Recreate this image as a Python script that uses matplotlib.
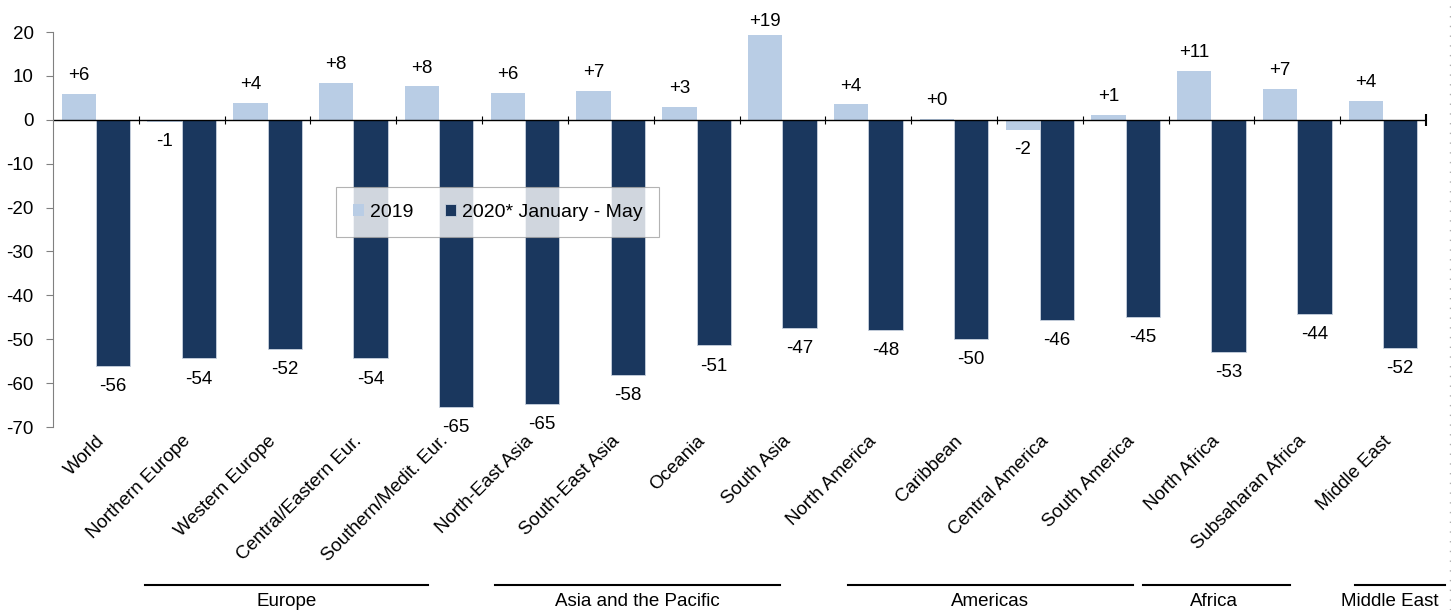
import numpy as np
import matplotlib.pyplot as plt
from matplotlib.lines import Line2D
import matplotlib.transforms as mtransforms

plt.rcParams['font.family'] = ['Liberation Sans', 'DejaVu Sans']
plt.rcParams['font.size'] = 13.5
plt.rcParams['axes.unicode_minus'] = False

# du lieu
regions = ["World", "Northern Europe", "Western Europe", "Central/Eastern Eur.",
           "Southern/Medit. Eur.", "North-East Asia", "South-East Asia", "Oceania",
           "South Asia", "North America", "Caribbean", "Central America",
           "South America", "North Africa", "Subsaharan Africa", "Middle East"]
v2019 = [5.9, -0.6, 3.9, 8.4, 7.7, 6.2, 6.6, 3.0, 19.4, 3.6, 0.2, -2.3, 1.1, 11.2, 7.1, 4.3]
v2020 = [-56.0, -54.3, -52.2, -54.3, -65.4, -64.7, -58.1, -51.4, -47.4, -47.8, -49.9,
         -45.6, -44.9, -52.8, -44.2, -51.9]
groups = ["Europe", "Asia and the Pacific", "Americas", "Africa", "Middle East"]
group_start = [0.57, 4.65, 8.77, 12.2, 14.67]
group_end = [3.87, 7.97, 12.08, 13.92, 15.72]
group_mid = [2.22, 6.31, 10.42, 13.03, 15.08]

c_light = '#b9cde5'
c_dark = '#1a375e'

fig = plt.figure(figsize=(14.51, 6.10), dpi=100)
ax = fig.add_axes([0.0365, 0.3, 0.9463, 0.6475])

x = np.arange(len(regions))
w = 0.4
ax.bar(x - w/2, v2019, w, color=c_light, label='2019')
ax.bar(x + w/2, v2020, w, color=c_dark, edgecolor='#c8d2de', linewidth=0.6,
       label='2020* January - May')

# nhan so lieu
for i in range(len(regions)):
    a = v2019[i]
    if a >= 0:
        ax.text(x[i] - w/2, min(a + 4.1, 22.3), f"{a:+.0f}", ha='center', va='center')
    else:
        ax.text(x[i] - w/2, a - 4.4, f"{a:+.0f}", ha='center', va='center')
    b = v2020[i]
    ax.text(x[i] + w/2, b - 4.8, f"{b:+.0f}", ha='center', va='center')

ax.set_xlim(-0.5, len(regions) - 0.5)
ax.set_ylim(-70, 20)
ax.set_yticks(np.arange(-70, 21, 10))
ax.spines['top'].set_visible(False)
ax.spines['right'].set_visible(False)
ax.spines['bottom'].set_visible(False)
ax.spines['left'].set_color('#808080')
ax.tick_params(axis='y', length=5, color='#808080', pad=9)

ax.set_xticks(x)
ax.set_xticklabels(regions, rotation=45, ha='right', rotation_mode='anchor')
ax.tick_params(axis='x', length=0, pad=4)

# truc 0 va vach chia
ax.axhline(0, color='black', linewidth=1.0)
bounds = np.arange(0.5, len(regions) - 0.5, 1.0)
ax.vlines(bounds, -0.9, 0.9, color='black', linewidth=0.8)
ax.vlines([len(regions) - 0.5], -1.4, 1.4, color='black', linewidth=1.5, clip_on=False)

leg = ax.legend(loc='center', bbox_to_anchor=(0.324, 0.544), ncol=2, frameon=True,
                fancybox=False, edgecolor='#a0a0a0', handlelength=0.6,
                handleheight=0.6, handletextpad=0.3, columnspacing=1.6,
                borderpad=0.85, fontsize=14)
leg.get_frame().set_linewidth(0.8)

# nhom khu vuc
trans = mtransforms.blended_transform_factory(ax.transData, fig.transFigure)
for g, s, e, m in zip(groups, group_start, group_end, group_mid):
    fig.add_artist(Line2D([s, e], [1 - 585/610, 1 - 585/610], transform=trans,
                          color='black', linewidth=1.5))
    fig.text(m, 1 - 601/610, g, transform=trans, ha='center', va='center', fontsize=13.5)

fig.add_artist(Line2D([1450/1451, 1450/1451], [0, 1], transform=fig.transFigure,
                      color='#b0b0b0', linewidth=1.0, linestyle=(0, (1, 6))))

fig.savefig('out.png', dpi=100)
